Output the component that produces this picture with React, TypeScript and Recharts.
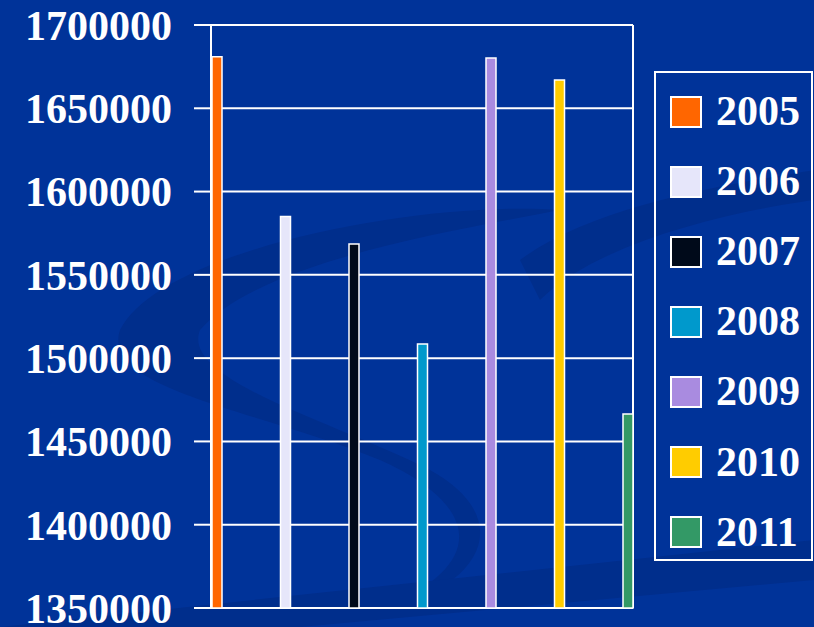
import React from 'react';
import { BarChart, Bar, XAxis, YAxis, CartesianGrid } from 'recharts';

const years = ['2005', '2006', '2007', '2008', '2009', '2010', '2011'];
const values = [1681000, 1585000, 1568500, 1508500, 1680200, 1667000, 1466500];
const colors = ['#FF6600', '#E6E6FA', '#000A1A', '#0099CC', '#A98BE0', '#FFCC00', '#339966'];
const yTicks = [1350000, 1400000, 1450000, 1500000, 1550000, 1600000, 1650000, 1700000];

const row: Record<string, string | number> = { name: '' };
years.forEach((y, i) => {
  row[y] = values[i];
});
const data = [row];

const FONT = '"Liberation Serif", "Times New Roman", serif';

// plot frame: left and right edges of the plot area
const frameEdges = ({ offset }: any) => [offset.left, offset.left + offset.width];

function Legend7() {
  return (
    <div
      style={{
        position: 'absolute',
        left: 654,
        top: 71,
        width: 155,
        height: 486,
        border: '2px solid #ffffff',
        boxSizing: 'content-box',
      }}
    >
      {years.map((y, i) => (
        <div
          key={y}
          style={{
            position: 'absolute',
            left: 14,
            top: 23 + i * 70.1,
            height: 31,
            display: 'flex',
            alignItems: 'center',
          }}
        >
          <div
            style={{
              width: 28,
              height: 28,
              background: colors[i],
              border: '2px solid #ffffff',
              boxSizing: 'content-box',
            }}
          />
          <span
            style={{
              marginLeft: 14,
              color: '#ffffff',
              fontFamily: FONT,
              fontWeight: 'bold',
              fontSize: 42,
              lineHeight: '31px',
            }}
          >
            {y}
          </span>
        </div>
      ))}
    </div>
  );
}

export default function App() {
  return (
    <div
      style={{
        position: 'absolute',
        left: 0,
        top: 0,
        width: 814,
        height: 627,
        overflow: 'hidden',
        background: '#003399',
      }}
    >
      {/* faint swooshes of the slide background */}
      <svg width={814} height={627} style={{ position: 'absolute', left: 0, top: 0 }}>
        <path
          d="M 120 330 C 160 250, 420 200, 560 210 C 460 230, 260 260, 200 330 C 180 380, 330 420, 430 470 C 520 520, 480 590, 380 610 C 500 560, 470 500, 380 460 C 260 410, 100 390, 120 330 Z"
          fill="#002e8c"
        />
        <path d="M 0 627 L 814 540 L 814 580 L 300 627 Z" fill="#002e8c" />
        <path
          d="M 520 260 C 600 200, 760 180, 814 170 L 814 200 C 740 210, 600 240, 540 300 Z"
          fill="#002e8c"
        />
      </svg>
      <div style={{ position: 'absolute', left: 0, top: 0 }}>
        <BarChart
          width={814}
          height={627}
          data={data}
          margin={{ top: 25, right: 181, bottom: 19, left: 0 }}
          barCategoryGap={0}
          barGap={58.5}
          barSize={10}
        >
          <CartesianGrid
            horizontal
            vertical
            verticalCoordinatesGenerator={frameEdges}
            stroke="#ffffff"
            strokeWidth={2}
          />
          <XAxis
            dataKey="name"
            height={0}
            tick={false}
            tickLine={false}
            axisLine={{ stroke: '#ffffff', strokeWidth: 2 }}
          />
          <YAxis
            width={211}
            domain={[1350000, 1700000]}
            ticks={yTicks}
            interval={0}
            tickSize={17}
            tickMargin={22}
            tickLine={{ stroke: '#ffffff', strokeWidth: 2 }}
            axisLine={{ stroke: '#ffffff', strokeWidth: 2 }}
            tick={{ fill: '#ffffff', fontSize: 42, fontFamily: FONT, fontWeight: 'bold' }}
          />
          {years.map((y, i) => (
            <Bar
              key={y}
              dataKey={y}
              fill={colors[i]}
              stroke="#ffffff"
              strokeWidth={1.5}
              isAnimationActive={false}
            />
          ))}
        </BarChart>
      </div>
      <Legend7 />
    </div>
  );
}
